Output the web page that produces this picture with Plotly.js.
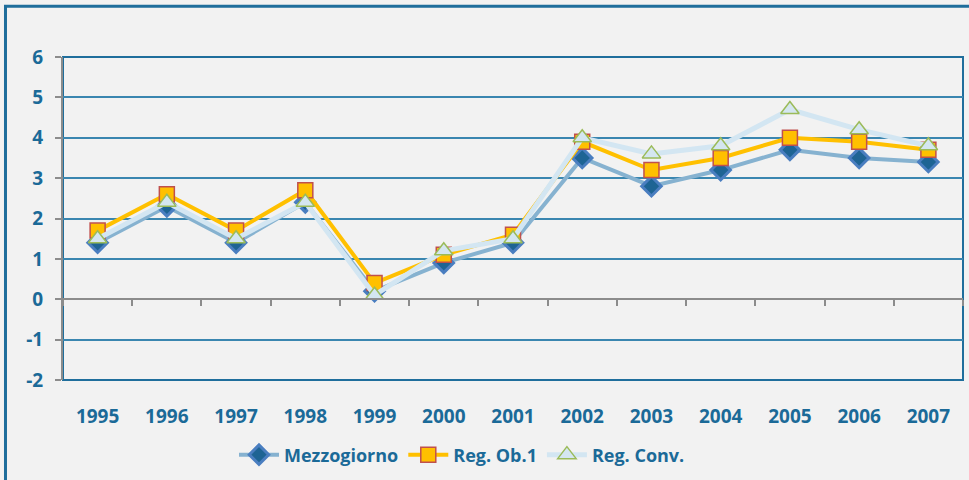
<!DOCTYPE html>
<html>
<head>
<meta charset="utf-8">
<script src="https://cdn.plot.ly/plotly-3.0.1.min.js"></script>
<style>
  html, body { margin: 0; padding: 0; background: #F2F2F2; }
  #chart { width: 969px; height: 480px; }
</style>
</head>
<body>
<div id="chart"></div>
<script>
// values
const years = ['1995', '1996', '1997', '1998', '1999', '2000', '2001', '2002', '2003', '2004', '2005', '2006', '2007'];
const mezzogiorno = [1.4, 2.3, 1.4, 2.4, 0.2, 0.9, 1.4, 3.5, 2.8, 3.2, 3.7, 3.5, 3.4];
const regOb1 = [1.7, 2.6, 1.7, 2.7, 0.4, 1.1, 1.6, 3.9, 3.2, 3.5, 4.0, 3.9, 3.7];
const regConv = [1.5, 2.4, 1.5, 2.4, 0.1, 1.2, 1.5, 4.0, 3.6, 3.8, 4.7, 4.2, 3.8];
const yTicks = [-2, -1, 0, 1, 2, 3, 4, 5, 6];
const yTickText = ['-2', '-1', '0', '1', '2', '3', '4', '5', '6'];

const textBlue = '#1B6A98';
const gridBlue = '#3A86B0';
const axisGray = '#8C8C8C';
const tickFont = { family: 'Open Sans, Liberation Sans, sans-serif', size: 19, color: textBlue, weight: 'bold' };
const legendFont = { family: 'Open Sans, Liberation Sans, sans-serif', size: 18, color: textBlue, weight: 'bold' };

const traces = [
    {
        x: years, y: mezzogiorno, name: 'Mezzogiorno', mode: 'lines+markers',
        line: { color: '#86B2D0', width: 4 },
        marker: { symbol: 'diamond', size: 15, color: '#1E6494', line: { color: '#4A7EC0', width: 3 } }
    },
    {
        x: years, y: regOb1, name: 'Reg. Ob.1', mode: 'lines+markers',
        line: { color: '#FFC000', width: 4 },
        marker: { symbol: 'square', size: 15, color: '#FFC000', line: { color: '#C0504D', width: 1.5 } }
    },
    {
        x: years, y: regConv, name: 'Reg. Conv.', mode: 'lines+markers',
        line: { color: '#D3E6F2', width: 5 },
        marker: { symbol: 'triangle-up', size: 16, color: '#D4E6F0', line: { color: '#9BBB59', width: 1.5 } }
    },
    // helper trace so the axis crossing at zero gets its category ticks
    {
        x: years, y: regConv, xaxis: 'x2', mode: 'none', showlegend: false, hoverinfo: 'skip'
    }
];

const layout = {
    width: 969,
    height: 480,
    paper_bgcolor: '#F2F2F2',
    plot_bgcolor: '#F2F2F2',
    margin: { l: 63, r: 6, t: 57, b: 100 },
    font: tickFont,
    showlegend: true,
    legend: {
        orientation: 'h', x: 0.19, xanchor: 'left', y: -0.232, yanchor: 'middle',
        font: legendFont, bgcolor: 'rgba(0,0,0,0)', itemwidth: 40, tracegroupgap: 0
    },
    xaxis: {
        type: 'category', range: [-0.5, 12.5], showgrid: false, showline: false, zeroline: false,
        ticks: 'outside', ticklen: 19, tickcolor: 'rgba(0,0,0,0)', tickfont: tickFont
    },
    xaxis2: {
        type: 'category', overlaying: 'x', anchor: 'free', position: 0.25, range: [-0.5, 12.5],
        showgrid: false, showline: true, linecolor: axisGray, linewidth: 2, zeroline: false,
        ticks: 'outside', tickson: 'boundaries', ticklen: 6, tickwidth: 2, tickcolor: axisGray,
        showticklabels: false
    },
    yaxis: {
        range: [-2, 6], tickmode: 'array', tickvals: yTicks, ticktext: yTickText,
        showgrid: true, gridcolor: gridBlue, gridwidth: 2,
        zeroline: false, showline: true, linecolor: axisGray, linewidth: 2,
        ticks: 'outside', ticklen: 6, tickwidth: 2, tickcolor: axisGray,
        ticklabelstandoff: 8, tickfont: tickFont
    },
    shapes: [
        // plot area frame
        { type: 'rect', xref: 'paper', yref: 'paper', x0: 0, x1: 1, y0: 0, y1: 1,
          line: { color: '#1F6E9C', width: 2 }, layer: 'below' },
        // outer chart frame (left and top edges visible)
        { type: 'rect', xref: 'paper', yref: 'paper', x0: -0.0639, x1: 1.03, y0: -0.4, y1: 1.157,
          line: { color: '#1F6E9C', width: 3 }, layer: 'below' }
    ]
};

Plotly.newPlot('chart', traces, layout, { displayModeBar: false, staticPlot: true });
</script>
</body>
</html>
